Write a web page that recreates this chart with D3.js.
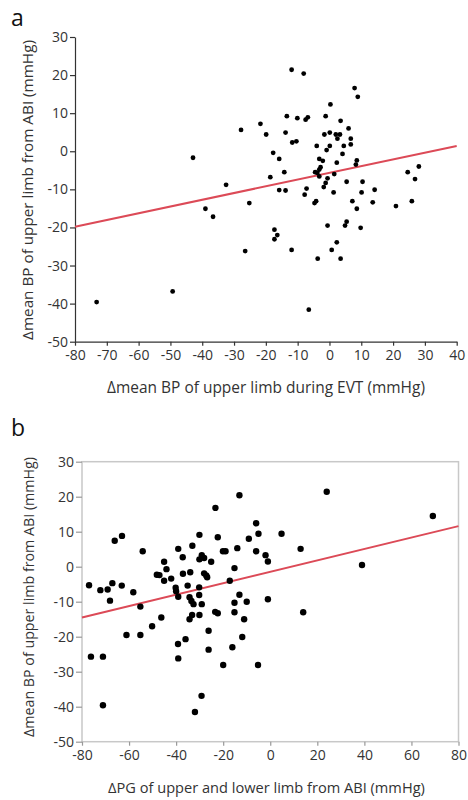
<!DOCTYPE html>
<html>
<head>
<meta charset="utf-8">
<script src="https://d3js.org/d3.v7.min.js"></script>
<style>
body { margin: 0; background: #fff; }
svg text { font-family: "Open Sans", "Noto Sans", sans-serif; fill: #333; }
.tick text { font-size: 14px; }
.axa path, .axa line { stroke: #333; stroke-width: 1.2px; }
.axb path, .axb line { stroke: #999; stroke-width: 1.2px; }
.frame { fill: none; stroke: #c8c8c8; stroke-width: 1.5px; }
.reg { stroke: #dc4a57; stroke-width: 2px; }
</style>
</head>
<body>
<svg width="468" height="800"></svg>
<script>

// panel a: change of mean BP during EVT vs change from ABI
var aX = [-11.9, -8.1, 7.9, 8.9, 0.3, -13.4, -10.1, -7.5, -6.8, -1.2, 3.5, -21.7, -27.8, 6.0,
  -19.9, -13.8, -11.7, -10.4, -1.6, 0.1, 2.0, 2.5, 3.3, 6.7, 6.7, -4.0, 0.1, -0.9, 4.5, 4.1,
  -42.9, -17.7, -15.8, -3.2, -2.1, 2.3, 8.6, 8.3, -2.8, -3.2, -4.5, -3.8, -3.2, 1.5, -14.2,
  -18.6, -0.6, -1.2, -1.8, -7.2, -7.8, -15.8, -13.8, -32.5, 5.4, 10.4, 14.2, 10.1, 1.3, 24.6,
  28.1, 26.9, 7.2, 13.6, 8.6, 20.9, 25.9, -4.7, -4.2, -25.2, -39.0, -36.6, -0.6, 4.9, 5.4,
  9.8, -17.3, -17.3, -16.4, -26.5, -11.9, 0.7, 2.3, -3.7, 3.5, -73.2, -49.3, -6.5];
var aY = [21.4, 20.4, 16.6, 14.3, 12.3, 9.2, 8.7, 8.3, 8.9, 9.2, 8.0, 7.2, 5.6, 6.0,
  4.4, 4.9, 2.3, 2.6, 4.4, 4.9, 4.4, 3.3, 4.4, 3.3, 1.8, 1.4, 1.4, 0.3, 1.4, -0.7,
  -1.7, -0.4, -2.0, -2.0, -2.5, -3.0, -2.4, -3.5, -4.2, -4.8, -5.5, -5.7, -6.6, -6.0, -5.5,
  -6.8, -7.1, -8.3, -9.4, -9.8, -11.4, -10.2, -10.3, -8.8, -8.0, -8.0, -10.1, -10.8, -10.8, -5.5,
  -4.0, -7.3, -13.1, -13.4, -15.1, -14.4, -13.1, -13.6, -13.1, -13.6, -15.1, -17.2, -19.5, -19.5, -18.5,
  -20.1, -20.6, -23.1, -22.0, -26.2, -25.9, -25.9, -23.9, -28.2, -28.2, -39.6, -36.8, -41.6];
var aReg = [[-80, -19.8], [40, 1.4]];
var aXTicks = [-80, -70, -60, -50, -40, -30, -20, -10, 0, 10, 20, 30, 40];

// panel b: change of PG of upper and lower limb vs change from ABI
var bX = [-13.1, 24.0, 69.1, -23.3, -66.1, -63.0, -54.2, -39.1, -33.1, -30.1, -22.3, -6.0, -5.0,
  -9.1, 4.8, -14.0, -20.1, -19.0, -6.0, -2.0, -1.0, 12.9, 39.0, -45.1, -37.2, -29.1, -30.1,
  -28.1, -25.1, -77.0, -72.2, -69.1, -67.1, -63.1, -68.1, -58.2, -55.2, -48.2, -47.1, -44.1,
  -45.1, -42.1, -40.2, -40.0, -39.1, -37.1, -35.1, -34.0, -28.1, -27.2, -26.8, -30.2, -30.2,
  -34.3, -33.5, -32.6, -29.1, -33.2, -34.3, -30.1, -61.1, -55.2, -50.2, -46.3, -39.2, -36.0,
  -26.2, -26.2, -16.1, -11.9, -23.4, -22.3, -15.2, -11.1, -15.2, -10.0, -13.1, -1.0, -17.2,
  -15.2, 14.0, -76.2, -71.1, -71.1, -39.1, -20.0, -5.2, -29.2, -32.0];
var bY = [20.4, 21.4, 14.5, 16.8, 7.4, 8.8, 4.4, 5.1, 6.0, 9.1, 8.4, 12.4, 9.4,
  8.0, 9.4, 5.3, 4.4, 4.4, 4.4, 3.3, 1.5, 5.1, 0.5, 1.4, 2.7, 3.3, 2.1,
  2.5, 1.4, -5.3, -6.7, -6.5, -4.7, -5.4, -9.7, -7.3, -11.4, -2.3, -2.4, -0.7,
  -4.0, -3.4, -6.0, -7.0, -8.6, -2.0, -5.4, -1.6, -1.9, -2.5, -3.0, -5.9, -8.1,
  -8.7, -9.8, -10.7, -10.7, -13.8, -15.0, -13.8, -19.5, -19.5, -17.0, -14.5, -22.1, -20.7,
  -18.3, -23.7, -23.0, -20.1, -12.9, -13.3, -13.0, -15.0, -10.3, -10.0, -8.0, -9.3, -4.0,
  -0.4, -13.0, -25.7, -25.7, -39.6, -26.2, -28.1, -28.1, -36.9, -41.5];
var bReg = [[-80, -14.5], [80, 11.6]];
var bXTicks = [-80, -60, -40, -20, 0, 20, 40, 60, 80];

var yTicks = [-50, -40, -30, -20, -10, 0, 10, 20, 30];

var svg = d3.select("svg");

// shrink/grow a text's font so it spans the wanted width
function fitText(sel, base, want) {
    sel.style("font-size", base + "px");
    var w = sel.node().getComputedTextLength();
    if (w > 0) sel.style("font-size", (base * want / w).toFixed(2) + "px");
}

function drawPanel(p) {
    var x = d3.scaleLinear().domain(p.xdom).range([p.left, p.right]);
    var y = d3.scaleLinear().domain([-50, 30]).range([p.bottom, p.top]);
    var g = svg.append("g");

    if (p.box) {
        g.append("rect").attr("class", "frame")
            .attr("x", p.left).attr("y", p.top)
            .attr("width", p.right - p.left).attr("height", p.bottom - p.top);
    }

    // X Axis
    g.append("g")
        .attr("class", p.box ? "axb" : "axa")
        .attr("transform", "translate(0," + p.bottom + ")")
        .call(d3.axisBottom(x).tickValues(p.xticks).tickSize(4).tickSizeOuter(0).tickPadding(4)
            .tickFormat(function(d) { return String(d); }));

    // Y Axis
    g.append("g")
        .attr("class", p.box ? "axb" : "axa")
        .attr("transform", "translate(" + p.left + ",0)")
        .call(d3.axisLeft(y).tickValues(yTicks).tickSize(p.box ? 6 : 5).tickSizeOuter(0).tickPadding(2)
            .tickFormat(function(d) { return String(d); }));

    if (p.box) g.selectAll(".domain").remove();

    // Regression Line
    g.append("line").attr("class", "reg")
        .attr("x1", x(p.reg[0][0])).attr("y1", y(p.reg[0][1]))
        .attr("x2", x(p.reg[1][0])).attr("y2", y(p.reg[1][1]));

    // Data
    g.append("g").selectAll("circle")
        .data(d3.range(p.xs.length))
        .enter().append("circle")
        .attr("cx", function(i) { return x(p.xs[i]); })
        .attr("cy", function(i) { return y(p.ys[i]); })
        .attr("r", p.r)
        .style("fill", "#000");

    // axis titles
    var xt = g.append("text")
        .attr("x", p.xlabMid)
        .attr("y", p.xlabY)
        .attr("text-anchor", "middle")
        .text(p.xlabel);
    fitText(xt, 15, p.xlabW);

    var yt = g.append("text")
        .attr("transform", "translate(" + p.ylabX + "," + p.ylabMid + ") rotate(-90)")
        .attr("text-anchor", "middle")
        .text(p.ylabel);
    fitText(yt, 15, p.ylabW);

    // panel letter
    g.append("text")
        .attr("x", 11).attr("y", p.letterY)
        .style("font-size", "23px")
        .style("fill", "#111")
        .text(p.letter);
}

drawPanel({
    letter: "a", letterY: 26, box: false,
    xdom: [-80, 40], xticks: aXTicks, xs: aX, ys: aY, reg: aReg, r: 2.4,
    left: 75, right: 456.7, top: 37, bottom: 341.7,
    xlabel: "\u0394mean BP of upper limb during EVT (mmHg)", xlabY: 393, xlabMid: 266, xlabW: 318,
    ylabel: "\u0394mean BP of upper limb from ABI (mmHg)", ylabX: 33, ylabMid: 190, ylabW: 300
});

drawPanel({
    letter: "b", letterY: 436, box: true,
    xdom: [-80, 80], xticks: bXTicks, xs: bX, ys: bY, reg: bReg, r: 3.2,
    left: 82, right: 458.5, top: 461.7, bottom: 741.7,
    xlabel: "\u0394PG of upper and lower limb from ABI (mmHg)", xlabY: 793, xlabMid: 266.5, xlabW: 317,
    ylabel: "\u0394mean BP of upper limb from ABI (mmHg)", ylabX: 33.5, ylabMid: 597, ylabW: 280
});

</script>
</body>
</html>
